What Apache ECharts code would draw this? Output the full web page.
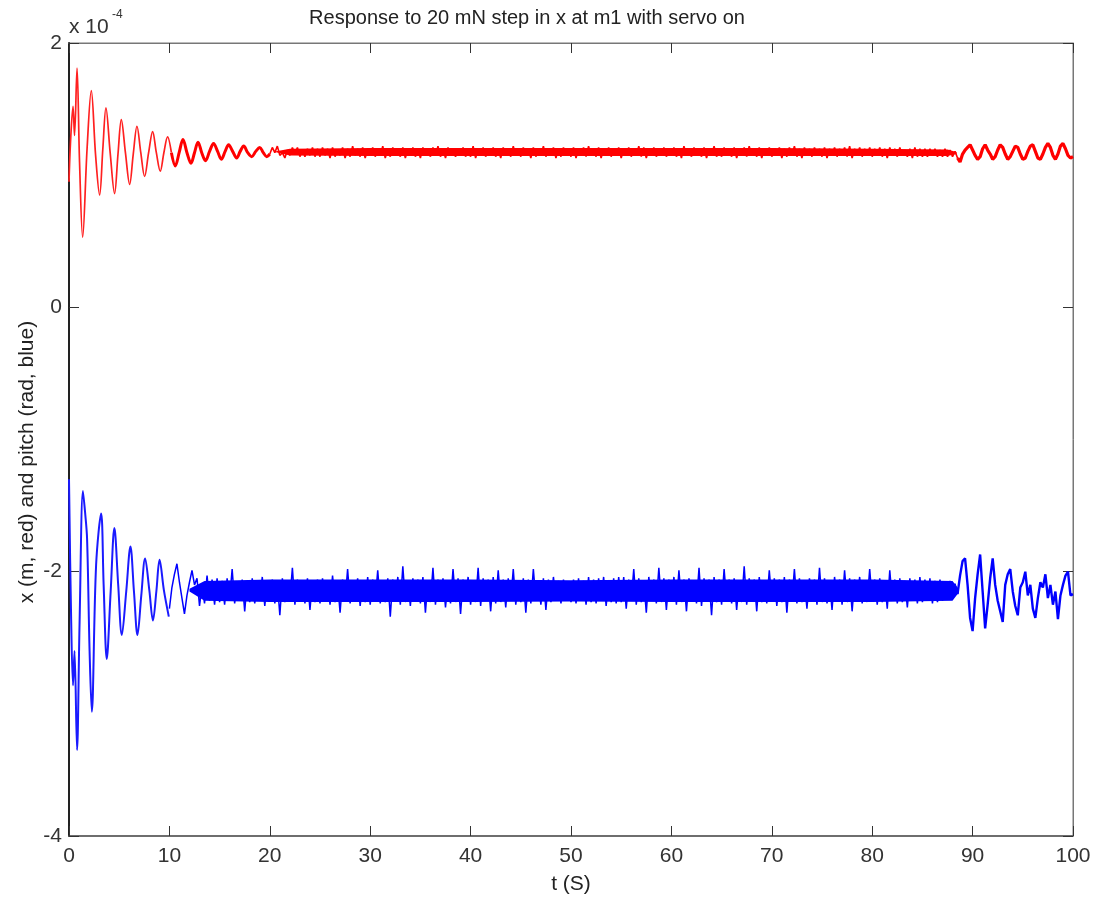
<!DOCTYPE html>
<html>
<head>
<meta charset="utf-8">
<script src="https://cdn.jsdelivr.net/npm/echarts@6/dist/echarts.min.js"></script>
<style>
html,body{margin:0;padding:0;background:#fff;}
#chart{width:1094px;height:898px;}
</style>
</head>
<body>
<div id="chart"></div>
<script>
// Values in units of 1e-4 (as shown on the axis with "x 10^-4")
const xTicks = [0, 10, 20, 30, 40, 50, 60, 70, 80, 90, 100];
const yTicks = [-4, -2, 0, 2];

// red: x (m) — transient part [t, value]
const redTransient = [
  [0.0,0.95],[0.15,1.25],[0.4,1.52],[0.55,1.30],[0.8,1.81],[1.05,1.10],[1.36,0.53],[1.8,1.20],
  [2.22,1.64],[2.65,1.15],[3.05,0.85],[3.37,1.20],[3.68,1.51],[4.1,1.17],[4.54,0.86],[4.88,1.16],
  [5.21,1.42],[5.62,1.17],[6.04,0.93],[6.4,1.16],[6.77,1.37],[7.15,1.17],[7.53,0.99],[7.93,1.17],
  [8.33,1.33],[8.7,1.17],[9.09,1.03],[9.45,1.17],[9.82,1.29],[10.2,1.17],[10.59,1.07],[10.97,1.17],
  [11.35,1.27],[11.75,1.17],[12.15,1.09],[12.5,1.17],[12.85,1.25],[13.22,1.17],[13.6,1.11],[14.0,1.18],
  [14.4,1.24],[14.8,1.18],[15.17,1.12],[15.55,1.18],[15.9,1.23],[16.3,1.18],[16.7,1.13],[17.05,1.18],
  [17.4,1.22],[17.8,1.17],[18.2,1.14],[18.6,1.18],[19.0,1.21],[19.35,1.17],[19.7,1.14],[20.0,1.16]
];
// red: sampled every 0.25 s from t = 20 to t = 100
const redBandStart = 20;
const redBandStep = 0.25;
const redBand = [
  1.16,1.21,1.17,1.22,1.15,1.17,1.13,1.19,1.15,1.21,1.16,1.21,1.14,1.19,1.14,1.20,1.15,1.21,1.14,1.20,
  1.14,1.21,1.15,1.20,1.13,1.21,1.14,1.19,1.15,1.21,1.13,1.20,1.14,1.22,1.15,1.20,1.14,1.21,1.13,1.20,
  1.15,1.21,1.14,1.20,1.15,1.22,1.13,1.20,1.14,1.21,1.15,1.19,1.14,1.21,1.13,1.20,1.15,1.21,1.14,1.20,
  1.13,1.21,1.15,1.20,1.14,1.21,1.15,1.22,1.14,1.20,1.13,1.21,1.15,1.20,1.14,1.19,1.15,1.21,1.14,1.20,
  1.14,1.22,1.13,1.20,1.15,1.21,1.14,1.20,1.15,1.21,1.14,1.20,1.13,1.21,1.15,1.20,1.14,1.22,1.15,1.20,
  1.14,1.21,1.15,1.20,1.13,1.21,1.14,1.20,1.15,1.22,1.14,1.20,1.15,1.21,1.13,1.20,1.14,1.21,1.15,1.19,
  1.14,1.21,1.13,1.20,1.15,1.21,1.14,1.22,1.15,1.20,1.14,1.21,1.13,1.20,1.15,1.21,1.14,1.20,1.15,1.21,
  1.13,1.20,1.15,1.21,1.14,1.20,1.15,1.22,1.14,1.21,1.13,1.20,1.15,1.21,1.14,1.19,1.15,1.21,1.14,1.20,
  1.15,1.21,1.14,1.20,1.13,1.22,1.15,1.20,1.14,1.21,1.15,1.20,1.14,1.21,1.13,1.20,1.15,1.22,1.14,1.20,
  1.14,1.21,1.15,1.20,1.14,1.21,1.13,1.20,1.15,1.21,1.14,1.22,1.15,1.20,1.14,1.21,1.13,1.20,1.15,1.21,
  1.14,1.20,1.15,1.21,1.13,1.20,1.14,1.21,1.15,1.22,1.14,1.20,1.13,1.21,1.15,1.20,1.14,1.21,1.15,1.20,
  1.14,1.21,1.13,1.20,1.15,1.21,1.14,1.20,1.15,1.21,1.14,1.22,1.13,1.20,1.15,1.21,1.14,1.20,1.15,1.21,
  1.14,1.20,1.15,1.21,1.14,1.20,1.13,1.21,1.15,1.20,1.14,1.21,1.15,1.19,1.14,1.20,1.13,1.21,1.14,1.20,
  1.14,1.20,1.14,1.20,1.15,1.20,1.14,1.19,1.14,1.20,1.14,1.19,1.14,1.18,1.13,1.10,1.16,1.19,1.21,1.23,
  1.19,1.15,1.12,1.14,1.20,1.23,1.19,1.16,1.12,1.14,1.19,1.23,1.21,1.16,1.12,1.14,1.18,1.22,1.21,1.16,
  1.12,1.13,1.18,1.22,1.23,1.18,1.13,1.12,1.16,1.21,1.24,1.21,1.15,1.12,1.16,1.22,1.24,1.20,1.15,1.13,
  1.14
];
// red: dense-noise envelope (core of the band)
const redEnvTime = [20.5, 22, 30, 40, 50, 60, 70, 80, 87.5, 88.4];
const redEnvLow  = [1.175, 1.148, 1.145, 1.145, 1.145, 1.145, 1.145, 1.145, 1.145, 1.160];
const redEnvHigh = [1.180, 1.200, 1.205, 1.205, 1.205, 1.205, 1.205, 1.200, 1.195, 1.175];

// blue: pitch (rad) — transient part [t, value]
const blueTransient = [
  [0.0,-1.30],[0.2,-2.30],[0.4,-2.86],[0.55,-2.60],[0.8,-3.35],[1.05,-2.40],[1.39,-1.39],[1.6,-1.55],
  [1.8,-1.75],[2.05,-2.60],[2.27,-3.06],[2.7,-1.95],[3.2,-1.56],[3.45,-2.10],[3.76,-2.66],[4.15,-2.15],
  [4.52,-1.67],[4.9,-2.10],[5.26,-2.48],[5.7,-2.15],[6.12,-1.81],[6.47,-2.15],[6.82,-2.48],[7.2,-2.18],
  [7.58,-1.90],[8.0,-2.14],[8.36,-2.37],[8.7,-2.15],[9.02,-1.91],[9.45,-2.14],[9.94,-2.34]
];
// blue: sampled every 0.25 s from t = 10 to t = 100
const blueBandStart = 10;
const blueBandStep = 0.25;
const blueBand = [
  -2.28,-2.12,-2.02,-1.94,-2.08,-2.20,-2.32,-2.18,-2.08,-1.99,-2.10,-2.05,-2.26,-2.10,-2.24,-2.03,-2.22,-2.06,-2.25,-2.05,
  -2.23,-2.07,-2.25,-2.05,-2.21,-1.98,-2.24,-2.08,-2.22,-2.06,-2.30,-2.07,-2.23,-2.05,-2.24,-2.09,-2.22,-2.04,-2.26,-2.07,
  -2.22,-2.06,-2.24,-2.08,-2.33,-2.05,-2.23,-2.07,-2.21,-1.97,-2.25,-2.06,-2.22,-2.08,-2.24,-2.05,-2.29,-2.07,-2.23,-2.06,
  -2.24,-2.05,-2.22,-2.07,-2.25,-2.03,-2.23,-2.08,-2.31,-2.06,-2.22,-1.98,-2.24,-2.07,-2.21,-2.05,-2.26,-2.08,-2.23,-2.04,
  -2.25,-2.06,-2.22,-1.99,-2.24,-2.07,-2.23,-2.05,-2.34,-2.06,-2.22,-2.04,-2.25,-1.96,-2.23,-2.07,-2.26,-2.05,-2.22,-2.06,
  -2.24,-2.04,-2.31,-2.07,-2.23,-1.97,-2.25,-2.06,-2.22,-2.05,-2.27,-2.08,-2.24,-1.98,-2.23,-2.05,-2.32,-2.06,-2.22,-2.04,
  -2.25,-2.07,-2.23,-1.97,-2.26,-2.05,-2.22,-2.06,-2.30,-2.04,-2.24,-1.99,-2.23,-2.06,-2.27,-2.05,-2.22,-1.98,-2.25,-2.07,
  -2.23,-2.05,-2.31,-2.06,-2.24,-1.98,-2.22,-2.07,-2.25,-2.05,-2.29,-2.06,-2.23,-2.04,-2.22,-2.07,-2.24,-2.06,-2.21,-2.08,
  -2.23,-2.06,-2.24,-2.05,-2.22,-2.07,-2.25,-2.04,-2.23,-2.06,-2.24,-2.05,-2.22,-2.04,-2.26,-2.07,-2.23,-2.05,-2.24,-2.04,
  -2.23,-2.04,-2.28,-2.06,-2.22,-1.98,-2.25,-2.05,-2.23,-2.07,-2.31,-2.04,-2.22,-2.06,-2.24,-1.97,-2.23,-2.05,-2.29,-2.06,
  -2.22,-2.04,-2.25,-1.99,-2.23,-2.06,-2.30,-2.05,-2.22,-2.07,-2.24,-1.97,-2.26,-2.05,-2.22,-2.06,-2.33,-2.04,-2.23,-2.06,
  -2.25,-1.98,-2.22,-2.06,-2.24,-2.05,-2.29,-2.07,-2.23,-1.96,-2.25,-2.05,-2.22,-2.06,-2.30,-2.04,-2.23,-2.07,-2.24,-1.99,
  -2.22,-2.05,-2.26,-2.06,-2.23,-2.04,-2.31,-2.06,-2.22,-1.98,-2.24,-2.05,-2.23,-2.07,-2.28,-2.05,-2.22,-2.06,-2.25,-1.97,
  -2.23,-2.05,-2.24,-2.07,-2.29,-2.04,-2.22,-2.06,-2.25,-1.99,-2.23,-2.05,-2.30,-2.06,-2.22,-2.04,-2.24,-2.07,-2.23,-1.98,
  -2.22,-2.06,-2.25,-2.05,-2.23,-2.07,-2.28,-1.99,-2.22,-2.06,-2.24,-2.05,-2.23,-2.07,-2.27,-2.05,-2.22,-2.06,-2.24,-2.04,
  -2.23,-2.06,-2.22,-2.05,-2.24,-2.07,-2.23,-2.06,-2.22,-2.08,-2.21,-2.07,-2.20,-2.09,-2.17,-2.03,-1.92,-1.90,-2.10,-2.35,
  -2.45,-2.20,-2.02,-1.87,-2.15,-2.43,-2.25,-2.05,-1.90,-2.10,-2.22,-2.30,-2.38,-2.10,-2.02,-1.98,-2.15,-2.26,-2.33,-2.12,
  -2.08,-2.00,-2.18,-2.10,-2.28,-2.35,-2.20,-2.08,-2.12,-2.02,-2.20,-2.10,-2.25,-2.15,-2.36,-2.18,-2.10,-2.03,-2.00,-2.18,
  -2.17
];
// blue: dense-noise envelope (core of the band)
const blueEnvTime = [12.0, 13.5, 20, 30, 40, 50, 60, 70, 80, 88.0, 88.6];
const blueEnvLow  = [-2.15, -2.22, -2.23, -2.23, -2.23, -2.225, -2.23, -2.23, -2.23, -2.22, -2.16];
const blueEnvHigh = [-2.13, -2.07, -2.06, -2.06, -2.06, -2.065, -2.06, -2.06, -2.06, -2.07, -2.13];

// time splits used only to vary line widths (thin early transient, noisy later parts)
const redThickFrom = 10.2;
const disturbTime = 88.5;

const redBandData = redBand.map((v, i) => [redBandStart + i * redBandStep, v]);
const blueBandData = blueBand.map((v, i) => [blueBandStart + i * blueBandStep, v]);

function envelopeSeries(times, low, high, color) {
  return {
    type: 'custom', silent: true, z: 2, clip: true,
    data: times.map((t, i) => [t, low[i], high[i]]),
    encode: {x: 0, y: [1, 2]},
    renderItem: function (params, api) {
      if (params.dataIndex !== 0) return null;
      const pts = [];
      for (let i = 0; i < times.length; i++) pts.push(api.coord([times[i], high[i]]));
      for (let i = times.length - 1; i >= 0; i--) pts.push(api.coord([times[i], low[i]]));
      return {type: 'polygon', shape: {points: pts}, style: {fill: color}};
    }
  };
}

const FONT = 'Liberation Sans, Arial, Helvetica, sans-serif';
const chart = echarts.init(document.getElementById('chart'), null, {renderer: 'canvas'});

function line(data, color, width, smooth) {
  return {type: 'line', data: data, smooth: smooth || false, showSymbol: false, silent: true,
    lineStyle: {color: color, width: width}, z: 3};
}

const tickStyle = {show: true, inside: true, length: 10, lineStyle: {color: '#333', width: 1}};
const option = {
  backgroundColor: '#ffffff',
  animation: false,
  grid: {left: 69, right: 21, top: 43, bottom: 62, show: true, borderColor: '#777', borderWidth: 1, containLabel: false},
  xAxis: [
    {
      type: 'value', min: 0, max: 100, interval: 10, position: 'bottom',
      axisLine: {show: true, onZero: false, lineStyle: {color: '#555', width: 1.5}},
      axisTick: tickStyle,
      axisLabel: {fontSize: 21, color: '#333', fontFamily: FONT, margin: 10,
        formatter: v => (xTicks.indexOf(v) >= 0 ? String(v) : '')},
      splitLine: {show: false}
    },
    {
      type: 'value', min: 0, max: 100, interval: 10, position: 'top',
      axisLine: {show: true, onZero: false, lineStyle: {color: '#777', width: 1}},
      axisTick: tickStyle, axisLabel: {show: false}, splitLine: {show: false}
    }
  ],
  yAxis: [
    {
      type: 'value', min: -4, max: 2, interval: 2, position: 'left',
      axisLine: {show: true, onZero: false, lineStyle: {color: '#222', width: 2}},
      axisTick: tickStyle,
      axisLabel: {fontSize: 21, color: '#333', fontFamily: FONT, margin: 7,
        formatter: v => (yTicks.indexOf(v) >= 0 ? String(v) : '')},
      splitLine: {show: false}
    },
    {
      type: 'value', min: -4, max: 2, interval: 2, position: 'right',
      axisLine: {show: true, onZero: false, lineStyle: {color: '#777', width: 1}},
      axisTick: tickStyle, axisLabel: {show: false}, splitLine: {show: false}
    }
  ],
  series: [
    envelopeSeries(redEnvTime, redEnvLow, redEnvHigh, '#ff0000'),
    envelopeSeries(blueEnvTime, blueEnvLow, blueEnvHigh, '#0000ff'),
    line(redTransient.filter(d => d[0] <= redThickFrom + 0.1), '#ff2020', 1.7, 0.35),
    line(redTransient.filter(d => d[0] >= redThickFrom), '#ff0000', 3.0, 0.35),
    line(redBandData.filter(d => d[0] <= disturbTime), '#ff0000', 1.6),
    line(redBandData.filter(d => d[0] >= disturbTime), '#ff0000', 3.2),
    line(blueTransient, '#1a1aff', 2.0, 0.35),
    line(blueBandData.filter(d => d[0] <= disturbTime), '#0000ff', 1.5),
    line(blueBandData.filter(d => d[0] >= disturbTime), '#0000ff', 2.4)
  ],
  graphic: [
    {type: 'text', x: 527, y: 18, style: {text: 'Response to 20 mN step in x at m1 with servo on',
      fontSize: 20, fontFamily: FONT, fill: '#222', align: 'center', verticalAlign: 'middle'}},
    {type: 'text', x: 69, y: 27, style: {text: 'x 10', fontSize: 21, fontFamily: FONT, fill: '#333',
      align: 'left', verticalAlign: 'middle'}},
    {type: 'text', x: 112, y: 15, style: {text: '-4', fontSize: 12, fontFamily: FONT, fill: '#333',
      align: 'left', verticalAlign: 'middle'}},
    {type: 'text', x: 27, y: 462, rotation: Math.PI / 2, style: {text: 'x (m, red) and pitch (rad, blue)',
      fontSize: 21, fontFamily: FONT, fill: '#222', align: 'center', verticalAlign: 'middle'}},
    {type: 'text', x: 571, y: 884, style: {text: 't (S)', fontSize: 21, fontFamily: FONT, fill: '#222',
      align: 'center', verticalAlign: 'middle'}}
  ]
};
chart.setOption(option);
</script>
</body>
</html>
